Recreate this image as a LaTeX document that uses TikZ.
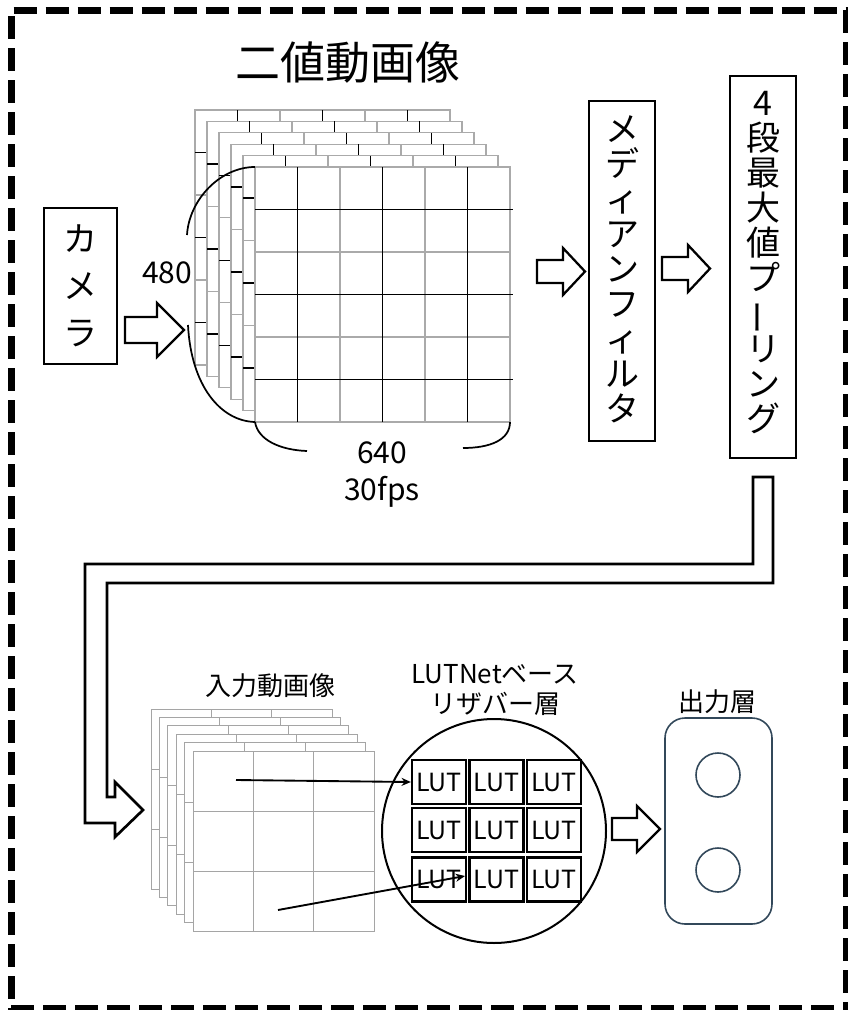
\documentclass[tikz,border=0pt]{standalone}
\usepackage{fontspec}
\setmainfont{Noto Sans CJK JP}
\usepackage{graphicx}
\usetikzlibrary{arrows.meta}
\newcommand\vbar{\rotatebox[origin=c]{90}{ー}}
\newcommand\blockarrow[6]{\draw[blk] (#1,#4-#5) -- (#2,#4-#5) -- (#2,#4-#6) -- (#3,#4) -- (#2,#4+#6) -- (#2,#4+#5) -- (#1,#4+#5) -- cycle;}
\definecolor{outc}{RGB}{50,72,90}
\definecolor{gridg}{RGB}{170,170,170}
\definecolor{gridl}{RGB}{165,165,165}
\tikzset{
  box/.style={draw, line width=1.6pt, inner sep=0pt},
  blk/.style={draw, line width=1.7pt, fill=white, line join=miter},
  vtext/.style={align=center, inner sep=0pt, font=\fontsize{25.5}{26.25}\selectfont},
  gline/.style={draw=gridg, line width=0.9pt},
  kline/.style={draw=black, line width=1.2pt},
  sline/.style={draw=gridl, line width=0.7pt},
  lutbox/.style={draw, line width=1.7pt, minimum width=40.5pt, minimum height=33pt, inner sep=0pt, font=\fontsize{18.75}{20}\selectfont},
  lab/.style={inner sep=0pt, font=\fontsize{22.5}{26}\selectfont},
  jlab/.style={inner sep=0pt, align=center, font=\fontsize{19.5}{22.5}\selectfont},
  bracket/.style={draw, line width=1.3pt},
  border/.style={draw, line width=5.25pt, dash pattern=on 17.25pt off 6.75pt},
  ptr/.style={draw, line width=1.4pt, -{Stealth[length=7pt,width=6pt]}}
}
\begin{document}
\begin{tikzpicture}[x=0.75pt,y=-0.75pt]
\useasboundingbox (0,0) rectangle (848,1010);
\clip (0,0) rectangle (848,1010);
% border
\draw[border, dash phase=-2pt] (11,10) -- (850,10);
\draw[border, dash phase=-4.5pt] (11,10) -- (11,1010);
\draw[border] (11,1008) -- (850,1008);
\draw[border] (846,10) -- (846,1010);

% title
\node[inner sep=0pt, font=\fontsize{33.75}{40}\selectfont] (title) at (348,63) {二値動画像};

% camera
\node[box, minimum width=54.75pt, minimum height=117pt, align=center,
      font=\fontsize{25.5}{35.25}\selectfont] (cam) at (80.5,286) {カ\\メ\\ラ};

% top frame stack
\foreach \i in {0,...,5}{
  \pgfmathsetmacro\xo{195+12*\i}
  \pgfmathsetmacro\yo{110+11.4*\i}
  \begin{scope}[shift={(\xo,\yo)}]
    \fill[white] (0,0) rectangle (255,255);
    \foreach \k in {2,4}{
      \draw[gline] (\k*42.5,0) -- (\k*42.5,255);
      \draw[gline] (0,\k*42.5) -- (255,\k*42.5);
    }
    \draw[gline] (0,0) rectangle (255,255);
    \foreach \k in {1,3,5}{
      \draw[kline] (\k*42.5,0) -- (\k*42.5,255);
      \draw[kline] (0,\k*42.5) -- (258,\k*42.5);
    }
  \end{scope}
}
\coordinate (fTL) at (255,167);
\coordinate (fBL) at (255,422);
\coordinate (fBR) at (510,422);

% brackets
\coordinate (b1) at (187,235);
\coordinate (b2) at (188,325);
\coordinate (b3) at (307,451);
\coordinate (b4) at (463,448);
\draw[bracket] (fTL) .. controls (220,167) and (189,200) .. (b1);
\draw[bracket] (b2) .. controls (191,385) and (220,421) .. (fBL);
\draw[bracket] (fBL) .. controls (258,440) and (280,450) .. (b3);
\draw[bracket] (b4) .. controls (490,448) and (510,440) .. (fBR);
\node[lab] (n480) at (167,273) {480};
\node[lab] (n640) at (382,453) {640};
\node[lab] (nfps) at (382,492) {30fps};

% median filter
\node[box, minimum width=49.5pt, minimum height=255pt] (med) at (622,271) {};
\node[vtext] (medt) at (622,269.5) {メ\\デ\\ィ\\ア\\ン\\フ\\ィ\\ル\\タ};

% pooling
\node[box, minimum width=49.5pt, minimum height=286.5pt] (pool) at (763,267) {};
\node[vtext] (poolt) at (763,262.5) {4\\段\\最\\大\\値\\プ\\\vbar\\リ\\ン\\グ};

% block arrows
\blockarrow{125}{157}{184}{330}{13}{27}
\blockarrow{537}{563}{585}{271.5}{11.5}{23.5}
\blockarrow{662}{688}{710}{268.5}{11.5}{23.5}
\blockarrow{612}{637}{660}{829}{11}{23}

% pipe connector
\draw[line width=2pt, line join=miter] (753,477) -- (773,477) -- (773,583) -- (107,583) -- (107,797) -- (115,797) -- (115,782) -- (143,810) -- (115,837) -- (115,823) -- (85,823) -- (85,564) -- (753,564) -- cycle;

% input stack
\node[jlab] (intitle) at (270,686) {入力動画像};
\foreach \i in {0,...,5}{
  \pgfmathsetmacro\xo{151+8.4*\i}
  \pgfmathsetmacro\yo{709+8.4*\i}
  \begin{scope}[shift={(\xo,\yo)}]
    \fill[white] (0,0) rectangle (181,180);
    \draw[sline] (0,0) rectangle (181,180);
    \foreach \k in {1,2}{
      \draw[sline] (\k*60.3,0) -- (\k*60.3,180);
      \draw[sline] (0,\k*60) -- (181,\k*60);
    }
  \end{scope}
}
\coordinate (src1) at (236,780);
\coordinate (src2) at (278,910);

% reservoir
\node[jlab] (restitle) at (495,690) {LUTNetベース\\リザバー層};
\node[draw, circle, line width=1.5pt, minimum size=168pt, inner sep=0pt] (res) at (494,831) {};
\foreach \r/\y in {1/782, 2/830, 3/879.5}{
  \foreach \c/\x in {1/439, 2/496.5, 3/554}{
    \node[lutbox, fill=white] (lut\r\c) at (\x,\y) {LUT};
  }
}
\draw[ptr] (src1) -- (lut11.west);
\draw[ptr] (src2) -- (465,876);

% output layer
\node[jlab] (outtitle) at (717,702) {出力層};
\node[draw=outc, line width=1.2pt, rounded corners=15pt, minimum width=80.25pt, minimum height=154.5pt] (outbox) at (718.5,821) {};
\node[draw=outc, circle, line width=1.2pt, minimum size=33pt, inner sep=0pt] (o1) at (718,775) {};
\node[draw=outc, circle, line width=1.2pt, minimum size=33pt, inner sep=0pt] (o2) at (718,870) {};
\end{tikzpicture}
\end{document}
